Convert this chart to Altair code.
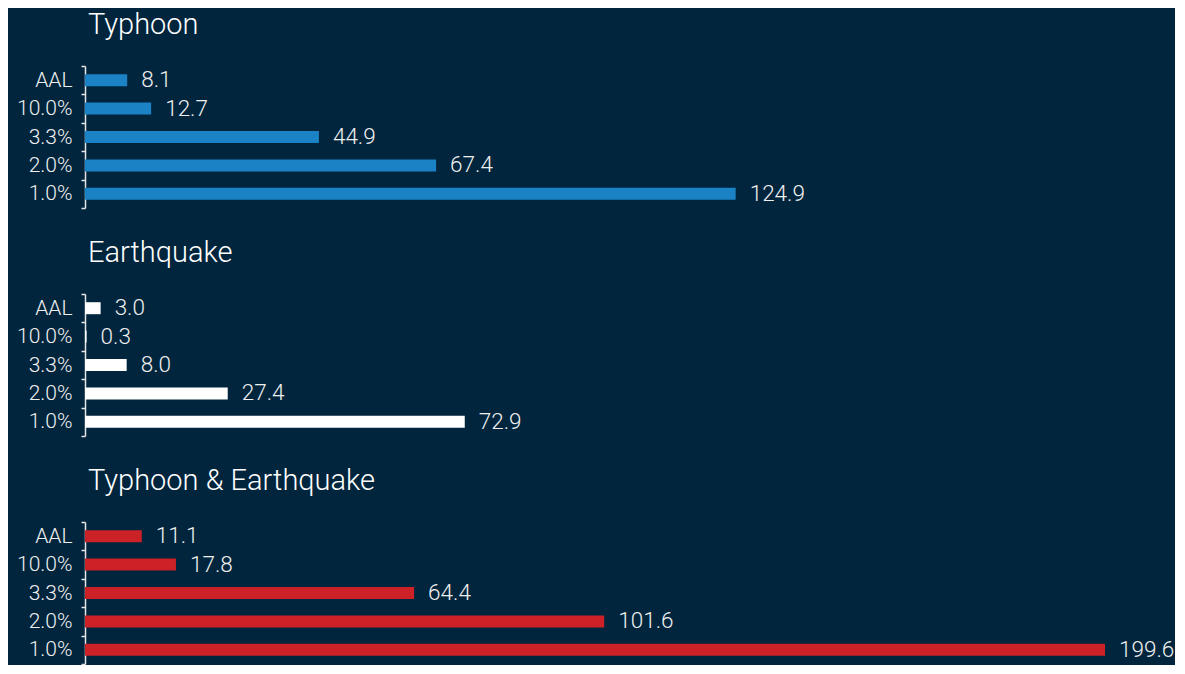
import altair as alt
import pandas as pd

categories = ["AAL", "10.0%", "3.3%", "2.0%", "1.0%"]
typhoon = [8.1, 12.7, 44.9, 67.4, 124.9]
earthquake = [3.0, 0.3, 8.0, 27.4, 72.9]
combined = [11.1, 17.8, 64.4, 101.6, 199.6]

titles = ["Typhoon", "Earthquake", "Typhoon & Earthquake"]
colors = ["#1B82C5", "#FFFFFF", "#CD2128"]
domains = [195.8, 195.8, 199.6]
series = [typhoon, earthquake, combined]

BG = "#00253D"
FONT = "Roboto"


def panel(title, values, color, dmax):
    df = pd.DataFrame({"cat": categories, "val": values})
    base = alt.Chart(df).encode(
        y=alt.Y(
            "cat:N",
            sort=categories,
            title=None,
            scale=alt.Scale(paddingInner=0, paddingOuter=0),
            axis=alt.Axis(
                domainColor="#E6E6E6",
                domainWidth=1.5,
                tickColor="#E6E6E6",
                tickWidth=1.5,
                tickSize=4,
                tickBand="extent",
                labelPadding=9,
                labelColor="#F0F0F0",
                labelFont=FONT,
                labelFontSize=21,
                labelFontWeight=300,
            ),
        ),
        x=alt.X(
            "val:Q",
            axis=None,
            scale=alt.Scale(domain=[0, dmax], nice=False, zero=True),
        ),
    )
    bars = base.mark_bar(size=12, color=color)
    labels = base.mark_text(
        align="left",
        baseline="middle",
        dx=14,
        font=FONT,
        fontSize=22.5,
        fontWeight=300,
        color="#F0F0F0",
    ).encode(text=alt.Text("val:Q", format=".1f"))
    return (bars + labels).properties(
        width=1020,
        height=142,
        title=alt.TitleParams(
            text=title,
            anchor="start",
            frame="group",
            offset=15,
            font=FONT,
            fontSize=29,
            fontWeight=300,
            color="#FFFFFF",
            dx=3,
        ),
    )


chart = (
    alt.vconcat(
        *[panel(t, v, c, d) for t, v, c, d in zip(titles, series, colors, domains)],
        spacing=30,
    )
    .resolve_scale(x="independent", y="independent")
    .properties(background=BG, padding={"left": 8, "top": 3, "right": 0, "bottom": 0})
    .configure_view(stroke=None)
)

chart.save("out.html", embed_options={"renderer": "svg", "actions": False})
